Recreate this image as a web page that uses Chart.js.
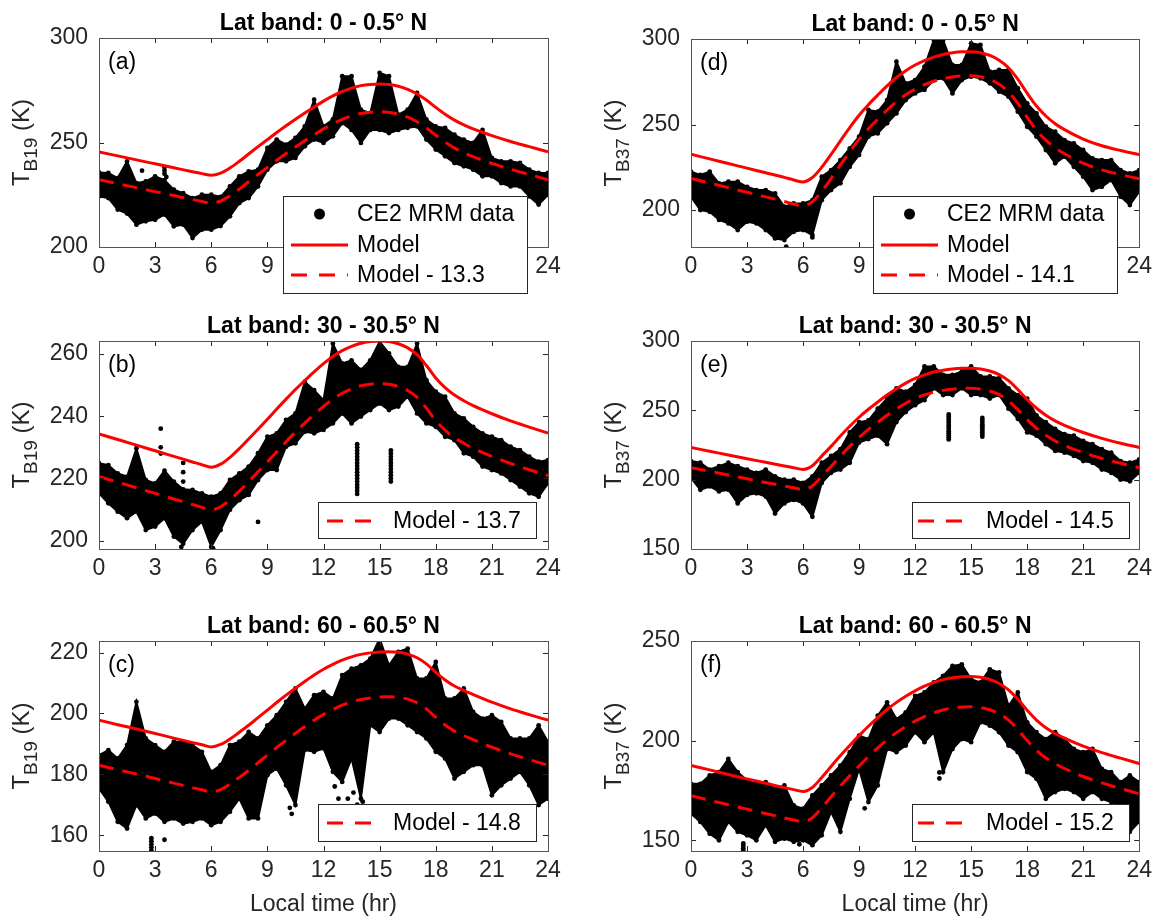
<!DOCTYPE html>
<html>
<head>
<meta charset="utf-8">
<script src="https://cdn.jsdelivr.net/npm/chart.js@4.4.1/dist/chart.umd.min.js"></script>
<style>
  body { margin: 0; background: #fff; width: 1158px; height: 923px; position: relative; overflow: hidden; }
  canvas { position: absolute; }
</style>
</head>
<body>
<canvas id="pa" width="580" height="300" style="left:0px;top:0px"></canvas>
<canvas id="pb" width="580" height="300" style="left:0px;top:300px"></canvas>
<canvas id="pc" width="580" height="323" style="left:0px;top:600px"></canvas>
<canvas id="pd" width="578" height="300" style="left:580px;top:0px"></canvas>
<canvas id="pe" width="578" height="300" style="left:580px;top:300px"></canvas>
<canvas id="pf" width="578" height="323" style="left:580px;top:600px"></canvas>
<script>
const FONT = "'Liberation Sans', Arial, Helvetica, sans-serif";

// hours of the model curves and of the data envelope
const modelHours = [0,1,2,3,4,5,5.5,6,6.5,7,7.5,8,8.5,9,9.5,10,10.5,11,11.5,12,12.5,13,13.5,14,14.5,15,15.5,16,16.5,17,17.5,18,18.5,19,19.5,20,21,22,23,24];
const dataHours = [0,0.5,1,1.5,2,2.5,3,3.5,4,4.5,5,5.5,6,6.5,7,7.5,8,8.5,9,9.5,10,10.5,11,11.5,12,12.5,13,13.5,14,14.5,15,15.5,16,16.5,17,17.5,18,18.5,19,19.5,20,20.5,21,21.5,22,22.5,23,23.5,24];
const hourTicks = [0,3,6,9,12,15,18,21,24];

// (a) TB19, 0 - 0.5 N
const modelA = [245.5,243.6,241.7,239.8,237.9,236.0,235.1,234.3,235.3,237.8,241.0,244.5,248.0,251.4,254.8,258.0,261.1,264.1,267.0,269.8,272.3,274.4,276.0,277.2,277.8,278.0,277.7,276.9,275.4,273.2,270.3,266.8,263.5,260.7,258.4,256.5,253.3,250.5,248.0,245.5];
const lowA = [224.2,223.4,217.9,216,210.7,212.3,213,215.5,209.9,210.7,204.3,208.3,208.3,210,214.7,221,223.4,229,237,241,241,242.6,248.2,251.4,249.8,253,259.3,256,249.8,256,256,254.5,256,257,257.7,251.4,246.6,243.4,240.2,238.6,237,233.8,233.8,230.6,229,229,224.2,220.3,225];
const highA = [235.7,235.4,233,241,230.6,231.4,233.8,232,227.4,225.8,223.4,225,225,224,229,233.8,236.2,237,247.4,251.4,249,252.2,257.7,270.5,257.7,261,281.7,281.7,265.7,264,283.3,281.7,263.3,265.7,273.7,261,257.7,257,253.7,251.4,249.8,256,242.6,241,241,240.2,237,235.4,235.4];
const extraA = [[2.3,236.5],[3.5,238],[3.5,236.5],[3.5,235],[3.6,233.5]];
const ticksA = [200,250,300];

// (b) TB19, 30 - 30.5 N
const modelB = [234.3,232.5,230.7,228.9,227.1,225.3,224.4,223.6,224.6,226.8,229.6,232.7,235.8,239.0,242.3,245.5,248.6,251.5,254.3,256.9,259.2,261.1,262.5,263.5,264.0,264.2,264.0,263.3,262.0,259.8,256.3,252.3,249.2,246.8,245.0,243.4,240.8,238.5,236.5,234.6];
const lowB = [215.2,212,209.3,207.2,209.3,203.4,204.5,207.2,201.3,199,203.4,206.1,198,203.4,209.9,213,214.7,219.5,222.7,222.7,230.2,231.3,235,234.5,235.6,237.7,240.9,237.7,239.9,242,244.1,242,243.1,246.3,240.9,237.7,236.6,233.4,232.3,228.1,227,223.8,222.7,221.6,219.5,217.4,215.2,214.1,218.4];
const highB = [224.9,224.3,221.6,220.6,229.7,219.5,218.4,222.5,219,216.5,216.3,215.2,214.1,215.2,219.5,221.6,223.8,228.1,233.4,234.5,238.8,240.9,251.1,248.4,245.2,263.4,257,258,254.9,258,264,260.2,255.9,255.9,263.4,251.6,247.9,246.3,240.9,239.3,236.6,234.5,233.4,232.3,230.2,229.1,227,225.4,225.9];
const extraB = [[3.3,236],[3.3,230],[3.3,228],[4.5,225],[4.5,222],[4.5,219],[4.4,198],[4.4,200],[6.1,197.5],[8.5,206],
  [13.8,215],[13.8,216],[13.8,217],[13.8,218],[13.8,219],[13.8,220],[13.8,221],[13.8,222],[13.8,223],[13.8,224],[13.8,225],[13.8,226],[13.8,227],[13.8,228],[13.8,229],[13.8,230],[13.8,231],
  [15.6,219],[15.6,220],[15.6,221],[15.6,222],[15.6,223],[15.6,224],[15.6,225],[15.6,226],[15.6,227],[15.6,228],[15.6,229]];
const ticksB = [200,220,240,260];

// (c) TB19, 60 - 60.5 N
const modelC = [197.8,196.3,194.9,193.4,191.9,190.4,189.7,189.0,189.8,191.6,193.8,196.1,198.6,201.1,203.6,206.0,208.3,210.5,212.6,214.5,216.1,217.5,218.6,219.4,219.9,220.2,220.3,220.1,219.5,218.3,216.3,213.5,211.0,209.0,207.5,206.2,203.7,201.5,199.6,197.8];
const lowC = [175.3,171,164.4,162.2,169.9,165.5,167.1,164.4,165.5,163.8,164.4,165.5,163.3,164.4,167.7,172,165.5,165.5,179.7,181.9,176.4,169.9,188,187.4,188.5,180.8,177.5,185.2,172,196.1,193.9,198.3,198.3,196.1,193.9,191.8,187.4,185.2,178.6,180.8,183,183,173.1,176.4,178.6,180.8,176.4,169.9,172];
const highC = [186.3,187.9,185.2,189.6,203.8,191.8,189.6,187.4,190.7,190.7,189.6,187.4,180.8,183,189.6,190.7,193.9,191.8,196.1,199.4,203.8,208.2,201.6,206,207.1,204.9,212.6,214.7,215.8,218,224.6,215.8,220.2,221.3,211.5,211.5,216.9,204.9,204.9,208.2,200.5,198.3,199.4,197.2,191.8,191.8,191.8,196.1,190.7];
const extraC = [[2.8,155],[2.8,156],[2.8,157],[2.8,158],[2.8,159],[3.5,158.5],[10.2,169],[10.3,167],[12.6,176],[12.8,172],[13.3,172],[13.6,174],[13.8,170],[14.1,171]];
const ticksC = [160,180,200,220];

// (d) TB37, 0 - 0.5 N
const modelD = [232.6,229.9,227.2,224.5,221.8,219.1,217.6,216.4,219.0,225.0,232.5,240.5,248.2,255.4,261.6,267.2,272.6,277.5,281.5,284.8,287.4,289.4,290.9,291.9,292.5,292.6,292.0,290.4,287.6,283.2,276.5,268.3,260.8,255.0,250.5,247.0,241.5,237.6,234.8,232.4];
const lowD = [207.8,200,199,194.2,192.2,188.3,193.2,192.2,188.3,183.4,182.5,187.3,188.3,185.4,205.8,211.7,215.6,225.3,232.2,242.9,244.8,250.7,256.5,264.3,268.2,270.2,276,277,268.2,276,278,277,274.1,269.2,266.3,257.5,248.7,242.9,235.1,227.3,231.2,225.3,219.5,211.7,213.6,217.5,207.8,202.9,210.7];
const highD = [222.4,220.5,222.4,215.6,216.6,216.6,213.6,211.7,211.7,209.7,202,203.9,203.9,205.8,219.5,223.4,229.2,236.1,242.9,258.5,257.5,264.3,286.7,274.1,276,283.8,299.4,299.4,284.8,284.8,297.5,296.5,280.9,281.9,281.9,271.2,262.4,256.5,248.7,245.8,240.9,239,235.1,230.2,229.2,229.2,223.4,221.4,223.4];
const extraD = [[5.1,178.6],[6.5,184]];
const ticksD = [200,250,300];

// (e) TB37, 30 - 30.5 N
const modelE = [223.2,220.5,217.8,215.1,212.5,209.9,208.6,207.4,210.0,217.0,224.0,231.5,238.5,245.0,250.8,256.0,261.0,265.5,269.6,273.0,275.6,277.6,278.9,279.8,280.3,280.4,279.8,278.4,275.8,271.4,265.0,257.8,251.5,246.5,242.4,239.2,234.0,229.8,226.3,223.2];
const lowE = [201.2,192.7,195.1,191.5,192.7,182.9,189,190.2,187.8,175.6,182.9,185.4,182.9,173.2,197.6,204.9,207.3,212.2,226.8,229.3,231.7,225.6,241.5,248.8,253.7,257.3,265.9,261,261,265.9,261,261,258.5,261,251.2,243.9,234.1,231.7,225.6,220.7,219.5,217.1,213.4,212.2,207.3,204.9,200,198.8,204.9];
const highE = [213.4,212.2,207.3,209.8,212.2,209.8,207.3,204.9,207.3,202.4,200,200,197.6,202.4,212.2,217.1,222,234.1,241.5,242.7,251.2,258.5,265.9,263.4,268.3,281.7,281.7,275.6,275.6,278,281.7,274.4,274.4,273.2,265.9,261,258.5,246.3,241.5,236.6,232.9,231.7,228,225.6,222,219.5,213.4,212.2,214.6];
const extraE = [[13.8,229],[13.8,230.5],[13.8,232],[13.8,233.5],[13.8,235],[13.8,236.5],[13.8,238],[13.8,239.5],[13.8,241],[13.8,242.5],[13.8,244],[13.8,245.5],[13.8,247],
  [15.6,231],[15.6,232.5],[15.6,234],[15.6,235.5],[15.6,237],[15.6,238.5],[15.6,240],[15.6,241.5],[15.6,243],[15.6,244.5]];
const ticksE = [150,200,250,300];

// (f) TB37, 60 - 60.5 N
const modelF = [187.5,185.3,183.0,180.8,178.6,176.4,175.4,174.5,176.5,181.5,187.0,192.5,197.6,202.5,207.2,211.6,215.6,219.2,222.3,225.0,227.3,229.2,230.6,231.6,232.1,232.2,231.8,230.7,228.7,225.5,220.8,215.2,210.3,206.5,203.6,201.2,197.2,194.0,191.2,188.5];
const lowF = [163.3,159.2,153.3,150,159.2,154.2,152.5,150,157.5,149.2,150.8,149.2,150,147.5,152.5,164.2,154.2,170.8,185.8,169.2,177.5,195.8,194.2,197.5,204.2,199.2,204.2,184.2,195.8,200.8,199.2,209.2,207.5,204.2,197.5,194.2,184.2,180.8,170.8,174.2,175.8,174.2,170.8,174.2,170.8,169.2,167.5,154.2,159.2];
const highF = [178.3,178.3,182.5,184.2,190.8,184.2,180,178.3,179.2,175.8,177.5,167.5,165.8,172.5,177.5,182.5,187.5,194.2,202.5,200.8,212.5,219.2,210.8,214.2,222.5,224.2,229.2,232.5,237.5,238.3,230.8,229.2,235.8,234.2,217.5,224.2,209.2,204.2,200.8,204.2,200.8,195.8,194.2,195.8,185.8,184.2,179.2,182.5,179.2];
const extraF = [[2.8,144.8],[2.8,146],[2.8,147.2],[2.8,148.4],[5.8,148],[9.3,166],[13.3,184],[13.3,181]];
const ticksF = [150,200,250];

const panels = [
  { canvas: 'pa', letter: '(a)', title: 'Lat band: 0 - 0.5\u00B0 N', band: 'B19', model: modelA, offset: 13.3,
    low: lowA, high: highA, extra: extraA, yTicks: ticksA, yMin: 200, yMax: 300,
    area: [99, 38, 548, 247], size: [580, 300],
    legend: { box: [283, 196, 527, 293], rows: [214, 245, 275], mark: [291, 348], text: 357, full: true } },
  { canvas: 'pb', letter: '(b)', title: 'Lat band: 30 - 30.5\u00B0 N', band: 'B19', model: modelB, offset: 13.7,
    low: lowB, high: highB, extra: extraB, yTicks: ticksB, yMin: 197.3, yMax: 264.2,
    area: [99, 41, 548, 249], size: [580, 300],
    legend: { box: [318, 202, 536, 238], rows: [221], mark: [327, 380], text: 393, full: false } },
  { canvas: 'pc', letter: '(c)', title: 'Lat band: 60 - 60.5\u00B0 N', band: 'B19', model: modelC, offset: 14.8,
    low: lowC, high: highC, extra: extraC, yTicks: ticksC, yMin: 154.8, yMax: 223.8,
    area: [99, 41, 548, 251], size: [580, 323], xTitle: true,
    legend: { box: [318, 204, 536, 241], rows: [223], mark: [327, 380], text: 393, full: false } },
  { canvas: 'pd', letter: '(d)', title: 'Lat band: 0 - 0.5\u00B0 N', band: 'B37', model: modelD, offset: 14.1,
    low: lowD, high: highD, extra: extraD, yTicks: ticksD, yMin: 178.4, yMax: 300,
    area: [111, 39, 562, 247], size: [578, 300],
    legend: { box: [293, 196, 537, 293], rows: [214, 245, 275], mark: [301, 358], text: 367, full: true } },
  { canvas: 'pe', letter: '(e)', title: 'Lat band: 30 - 30.5\u00B0 N', band: 'B37', model: modelE, offset: 14.5,
    low: lowE, high: highE, extra: extraE, yTicks: ticksE, yMin: 150, yMax: 300,
    area: [111, 41, 562, 249], size: [578, 300],
    legend: { box: [332, 202, 549, 238], rows: [221], mark: [338, 392], text: 406, full: false } },
  { canvas: 'pf', letter: '(f)', title: 'Lat band: 60 - 60.5\u00B0 N', band: 'B37', model: modelF, offset: 15.2,
    low: lowF, high: highF, extra: extraF, yTicks: ticksF, yMin: 144.6, yMax: 250,
    area: [111, 41, 562, 251], size: [578, 323], xTitle: true,
    legend: { box: [332, 204, 549, 241], rows: [223], mark: [338, 392], text: 406, full: false } }
];

const DASH = [15, 9];

// box, inward ticks, titles, y label and the legend drawn the MATLAB way
const matlabLook = {
  id: 'matlabLook',
  afterDraw(chart, args, opts) {
    const p = opts.panel;
    const ctx = chart.ctx;
    const a = chart.chartArea;
    const xs = chart.scales.x, ys = chart.scales.y;
    ctx.save();

    ctx.strokeStyle = '#262626';
    ctx.lineWidth = 1;
    ctx.beginPath();
    xs.ticks.forEach(t => {
      const px = Math.round(xs.getPixelForValue(t.value)) + 0.5;
      ctx.moveTo(px, a.bottom); ctx.lineTo(px, a.bottom - 5);
      ctx.moveTo(px, a.top); ctx.lineTo(px, a.top + 5);
    });
    ys.ticks.forEach(t => {
      const py = Math.round(ys.getPixelForValue(t.value)) + 0.5;
      ctx.moveTo(a.left, py); ctx.lineTo(a.left + 5, py);
      ctx.moveTo(a.right, py); ctx.lineTo(a.right - 5, py);
    });
    ctx.stroke();
    ctx.strokeStyle = '#555';
    ctx.strokeRect(Math.round(a.left) + 0.5, Math.round(a.top) + 0.5, Math.round(a.right - a.left), Math.round(a.bottom - a.top));

    // title
    ctx.fillStyle = '#000';
    ctx.font = 'bold 23px ' + FONT;
    ctx.textAlign = 'center';
    ctx.textBaseline = 'alphabetic';
    ctx.fillText(p.title, (a.left + a.right) / 2, a.top - 8.5);

    // panel letter
    ctx.font = '23px ' + FONT;
    ctx.textAlign = 'left';
    ctx.textBaseline = 'middle';
    ctx.fillText(p.letter, a.left + 9, a.top + 25);

    // y label T_Bxx (K)
    ctx.fillStyle = '#262626';
    ctx.save();
    ctx.translate(a.left - 70, (a.top + a.bottom) / 2);
    ctx.rotate(-Math.PI / 2);
    ctx.textBaseline = 'alphabetic';
    ctx.font = '24px ' + FONT;
    const wT = ctx.measureText('T').width;
    const wK = ctx.measureText(' (K)').width;
    ctx.font = '19px ' + FONT;
    const wS = ctx.measureText(p.band).width;
    const x0 = -(wT + wS + wK) / 2;
    ctx.font = '24px ' + FONT;
    ctx.fillText('T', x0, 0);
    ctx.font = '19px ' + FONT;
    ctx.fillText(p.band, x0 + wT, 8);
    ctx.font = '24px ' + FONT;
    ctx.fillText(' (K)', x0 + wT + wS, 0);
    ctx.restore();

    // legend
    const L = p.legend;
    const sets = chart.data.datasets;
    ctx.fillStyle = '#fff';
    ctx.fillRect(L.box[0], L.box[1], L.box[2] - L.box[0], L.box[3] - L.box[1]);
    ctx.strokeStyle = '#262626';
    ctx.strokeRect(L.box[0] + 0.5, L.box[1] + 0.5, L.box[2] - L.box[0], L.box[3] - L.box[1]);
    const items = L.full
      ? [{ kind: 'dot', label: sets[2].label }, { kind: 'solid', label: sets[1].label }, { kind: 'dash', label: sets[0].label }]
      : [{ kind: 'dash', label: sets[0].label }];
    ctx.font = '23px ' + FONT;
    ctx.textBaseline = 'middle';
    ctx.textAlign = 'left';
    items.forEach((it, i) => {
      const y = L.rows[i];
      if (it.kind === 'dot') {
        ctx.fillStyle = '#000';
        ctx.beginPath();
        ctx.arc((L.mark[0] + L.mark[1]) / 2, y, 5.5, 0, Math.PI * 2);
        ctx.fill();
      } else {
        ctx.strokeStyle = '#ff0000';
        ctx.lineWidth = 3;
        ctx.setLineDash(it.kind === 'dash' ? [16, 12] : []);
        ctx.beginPath();
        ctx.moveTo(L.mark[0], y); ctx.lineTo(L.mark[1], y);
        ctx.stroke();
        ctx.setLineDash([]);
        ctx.lineWidth = 1;
      }
      ctx.fillStyle = '#000';
      ctx.fillText(it.label, L.text, y + 1);
    });
    ctx.restore();
  }
};

const xy = (xs, ys) => ys.map((y, i) => ({ x: xs[i], y: y }));

panels.forEach(p => {
  const cloudStyle = {
    label: 'CE2 MRM data', borderColor: '#000', backgroundColor: '#000', borderWidth: 2,
    pointRadius: 2.4, pointBackgroundColor: '#000', pointBorderWidth: 0, tension: 0
  };
  new Chart(document.getElementById(p.canvas), {
    type: 'line',
    data: {
      datasets: [
        { label: 'Model - ' + p.offset, data: xy(modelHours, p.model.map(v => v - p.offset)),
          borderColor: '#ff0000', borderWidth: 3, borderDash: DASH, pointRadius: 0,
          cubicInterpolationMode: 'monotone', fill: false },
        { label: 'Model', data: xy(modelHours, p.model), borderColor: '#ff0000', borderWidth: 3,
          pointRadius: 0, cubicInterpolationMode: 'monotone', fill: false },
        Object.assign({}, cloudStyle, { data: xy(dataHours, p.low), fill: false }),
        Object.assign({}, cloudStyle, { data: xy(dataHours, p.high), fill: '-1' }),
        Object.assign({}, cloudStyle, { data: p.extra.map(d => ({ x: d[0], y: d[1] })), showLine: false })
      ]
    },
    options: {
      responsive: false,
      animation: false,
      devicePixelRatio: 1,
      events: [],
      layout: { padding: { left: 0, top: p.area[1], right: p.size[0] - p.area[2], bottom: 0 } },
      plugins: {
        legend: { display: false },
        tooltip: { enabled: false },
        matlabLook: { panel: p }
      },
      scales: {
        x: {
          type: 'linear', min: 0, max: 24,
          grid: { display: false, drawTicks: false },
          border: { display: false },
          afterBuildTicks: s => { s.ticks = hourTicks.map(v => ({ value: v })); },
          afterFit: s => { s.height = p.size[1] - p.area[3]; },
          ticks: { font: { family: FONT, size: 23 }, color: '#262626', padding: 6, maxRotation: 0, autoSkip: false },
          title: { display: !!p.xTitle, text: 'Local time (hr)', color: '#262626',
                   font: { family: FONT, size: 23 }, padding: { top: 0, bottom: 5 } }
        },
        y: {
          type: 'linear', min: p.yMin, max: p.yMax,
          grid: { display: false, drawTicks: false },
          border: { display: false },
          afterBuildTicks: s => { s.ticks = p.yTicks.map(v => ({ value: v })); },
          afterFit: s => { s.width = p.area[0]; },
          ticks: { font: { family: FONT, size: 23 }, color: '#262626', padding: 11 }
        }
      }
    },
    plugins: [matlabLook]
  });
});
</script>
</body>
</html>
